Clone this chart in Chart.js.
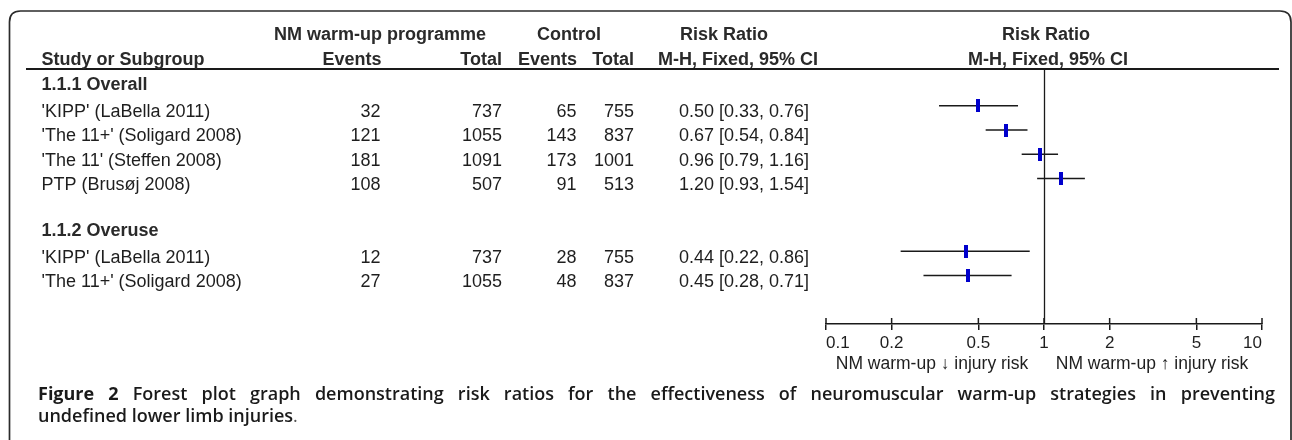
<!DOCTYPE html>
<html><head><meta charset="utf-8">
<script src="https://cdn.jsdelivr.net/npm/chart.js@4/dist/chart.umd.min.js"></script>
<style>html,body{margin:0;padding:0;background:#fff;}canvas{display:block}</style>
</head><body>
<canvas id="c" width="1292" height="440" style="width:1292px;height:440px"></canvas>
<script>
// ---------------- data ----------------
const studies = ["'KIPP' (LaBella 2011)", "'The 11+' (Soligard 2008)", "'The 11' (Steffen 2008)", "PTP (Brusøj 2008)", "'KIPP' (LaBella 2011)", "'The 11+' (Soligard 2008)"];
const studyRows = [1, 2, 3, 4, 7, 8];
const groups = ["1.1.1 Overall", "1.1.2 Overuse"];
const groupRows = [0, 6];
const nmEvents = [32, 121, 181, 108, 12, 27];
const nmTotal = [737, 1055, 1091, 507, 737, 1055];
const ctlEvents = [65, 143, 173, 91, 28, 48];
const ctlTotal = [755, 837, 1001, 513, 755, 837];
const riskRatio = [0.50, 0.67, 0.96, 1.20, 0.44, 0.45];
const ciLow = [0.33, 0.54, 0.79, 0.93, 0.22, 0.28];
const ciHigh = [0.76, 0.84, 1.16, 1.54, 0.86, 0.71];
const tickValues = [0.1, 0.2, 0.5, 1, 2, 5, 10];
const tickLabels = ["0.1", "0.2", "0.5", "1", "2", "5", "10"];
const favoursLeft = "NM warm-up \u2193 injury risk";
const favoursRight = "NM warm-up \u2191 injury risk";
const captionBold = "Figure 2";
const captionLine1 = "Forest plot graph demonstrating risk ratios for the effectiveness of neuromuscular warm-up strategies in preventing";
const captionLine2 = "undefined lower limb injuries";

// ---------------- styles ----------------
const FONT = "'Liberation Sans', Arial, Helvetica, sans-serif";
const CAPFONT = "'Open Sans', 'Noto Sans', sans-serif";
const TXT = '#1e1e1e';
const BOLDTXT = '#2a2a2a';
const LINE = '#1a1a1a';
const BLUE = '#0000cc';

// marker image (thin tall rectangle)
const marker = document.createElement('canvas');
marker.width = 4; marker.height = 13;
(function(){ const m = marker.getContext('2d'); m.fillStyle = BLUE; m.fillRect(0,0,4,13); })();

// CI segments built from arrays, separated by gaps
const ciData = [];
studyRows.forEach((r, i) => {
  ciData.push({x: ciLow[i], y: r});
  ciData.push({x: ciHigh[i], y: r});
  ciData.push({x: riskRatio[i], y: null});
});
const ptData = studyRows.map((r, i) => ({x: riskRatio[i], y: r}));

const fmt = v => v.toFixed(2);

const framePlugin = {
  id: 'frame',
  beforeDraw(chart) {
    const ctx = chart.ctx;
    ctx.save();
    ctx.fillStyle = '#fff';
    ctx.fillRect(0, 0, chart.width, chart.height);
    ctx.strokeStyle = '#2b2b2b';
    ctx.lineWidth = 1.7;
    ctx.beginPath();
    const L = 9.5, T = 11, R = 1291, rad = 11;
    ctx.moveTo(L, 445);
    ctx.lineTo(L, T + rad);
    ctx.quadraticCurveTo(L, T, L + rad, T);
    ctx.lineTo(R - rad, T);
    ctx.quadraticCurveTo(R, T, R, T + rad);
    ctx.lineTo(R, 445);
    ctx.stroke();
    ctx.restore();
  },
  beforeDatasetsDraw(chart) {
    const ctx = chart.ctx, xs = chart.scales.x, ca = chart.chartArea;
    ctx.save();
    ctx.strokeStyle = LINE;
    ctx.lineWidth = 1.8;
    ctx.beginPath(); ctx.moveTo(26, ca.top); ctx.lineTo(1279, ca.top); ctx.stroke();
    const x1 = Math.round(xs.getPixelForValue(1)) + 0.5;
    ctx.lineWidth = 1.3;
    ctx.beginPath(); ctx.moveTo(x1, ca.top); ctx.lineTo(x1, ca.bottom); ctx.stroke();
    ctx.lineWidth = 1.5;
    tickValues.forEach(v => {
      const x = xs.getPixelForValue(v);
      ctx.beginPath(); ctx.moveTo(x, ca.bottom - 6); ctx.lineTo(x, ca.bottom); ctx.stroke();
    });
    ctx.restore();
  },
  afterDraw(chart) {
    const ctx = chart.ctx, ys = chart.scales.y;
    ctx.save();
    ctx.textBaseline = 'alphabetic';
    ctx.fillStyle = BOLDTXT;
    ctx.font = 'bold 18px ' + FONT;
    ctx.textAlign = 'center';
    ctx.fillText('NM warm-up programme', 380, 40);
    ctx.fillText('Control', 569, 40);
    ctx.fillText('Risk Ratio', 724, 40);
    ctx.fillText('Risk Ratio', 1046, 40);
    ctx.fillText('M-H, Fixed, 95% CI', 738, 64.5);
    ctx.fillText('M-H, Fixed, 95% CI', 1048, 64.5);
    ctx.textAlign = 'left';
    ctx.fillText('Study or Subgroup', 41.5, 64.5);
    ctx.textAlign = 'right';
    ctx.fillText('Events', 381.5, 64.5);
    ctx.fillText('Total', 502, 64.5);
    ctx.fillText('Events', 577, 64.5);
    ctx.fillText('Total', 634, 64.5);
    ctx.textAlign = 'left';
    groups.forEach((g, i) => {
      ctx.fillText(g, 41.5, ys.getPixelForValue(groupRows[i]) + 8.5);
    });
    ctx.font = '18px ' + FONT;
    ctx.fillStyle = TXT;
    studies.forEach((s, i) => {
      const y = ys.getPixelForValue(studyRows[i]) + 11.3;
      ctx.textAlign = 'left';
      ctx.fillText(s, 41.5, y);
      ctx.fillText(fmt(riskRatio[i]) + ' [' + fmt(ciLow[i]) + ', ' + fmt(ciHigh[i]) + ']', 679, y);
      ctx.textAlign = 'right';
      ctx.fillText(String(nmEvents[i]), 380.5, y);
      ctx.fillText(String(nmTotal[i]), 502, y);
      ctx.fillText(String(ctlEvents[i]), 576.5, y);
      ctx.fillText(String(ctlTotal[i]), 634, y);
    });
    ctx.font = '17.5px ' + FONT;
    ctx.textAlign = 'center';
    ctx.fillText(favoursLeft, 932, 368.5);
    ctx.fillText(favoursRight, 1152, 368.5);

    // caption (justified first line)
    const x0 = 38, x1 = 1275;
    const words = [{t: 'Figure', f: 'bold 18px ' + CAPFONT}, {t: '2', f: 'bold 18px ' + CAPFONT}]
      .concat(captionLine1.split(' ').map(t => ({t, f: '600 18px ' + CAPFONT})));
    let W = 0;
    words.forEach(w => { ctx.font = w.f; w.w = ctx.measureText(w.t).width; W += w.w; });
    ctx.font = '600 18px ' + CAPFONT;
    const sp = ctx.measureText(' ').width;
    const gaps = words.length - 1;
    let sc = 1, gap;
    if (W + gaps * sp <= x1 - x0) { gap = (x1 - x0 - W) / gaps; }
    else { sc = (x1 - x0) / (W + gaps * sp); gap = sp * sc; }
    ctx.fillStyle = '#1a1a1a';
    ctx.textAlign = 'left';
    let x = x0;
    const yc1 = 400, yc2 = 422;
    words.forEach(w => {
      ctx.save(); ctx.font = w.f; ctx.translate(x, yc1); ctx.scale(sc, 1); ctx.fillText(w.t, 0, 0); ctx.restore();
      x += w.w * sc + gap;
    });
    ctx.save();
    ctx.font = '600 18px ' + CAPFONT;
    ctx.translate(x0, yc2); ctx.scale(sc, 1);
    ctx.fillText(captionLine2, 0, 0);
    const w2 = ctx.measureText(captionLine2).width;
    ctx.font = '400 18px ' + CAPFONT;
    ctx.fillStyle = '#555';
    ctx.fillText('.', w2, 0);
    ctx.restore();
    ctx.restore();
  }
};

new Chart(document.getElementById('c'), {
  type: 'scatter',
  data: {
    datasets: [
      {
        label: 'CI', data: ciData, showLine: true, spanGaps: false,
        borderColor: LINE, borderWidth: 1.5, pointRadius: 0, order: 2
      },
      {
        label: 'Risk ratio', data: ptData, showLine: false,
        pointStyle: marker, pointRadius: 6, order: 1
      }
    ]
  },
  options: {
    responsive: false, animation: false, devicePixelRatio: 1,
    layout: {padding: {left: 826, right: 30, top: 69, bottom: 86}},
    plugins: {legend: {display: false}, tooltip: {enabled: false}},
    scales: {
      x: {
        type: 'logarithmic', min: 0.1, max: 10, position: 'bottom',
        border: {display: true, color: LINE, width: 1.5},
        grid: {display: true, drawOnChartArea: false, drawTicks: true, tickLength: 6, color: LINE, lineWidth: 1.5},
        ticks: {align: 'inner', padding: 3, color: TXT, autoSkip: false, maxRotation: 0,
          font: {family: FONT, size: 17},
          callback: (v, i) => tickLabels[i]},
        afterBuildTicks: s => { s.ticks = tickValues.map(v => ({value: v})); },
        afterFit: s => { s.height = 30; }
      },
      y: {type: 'linear', reverse: true, min: -0.52, max: 10, display: false}
    }
  },
  plugins: [framePlugin]
});
</script>
</body></html>
